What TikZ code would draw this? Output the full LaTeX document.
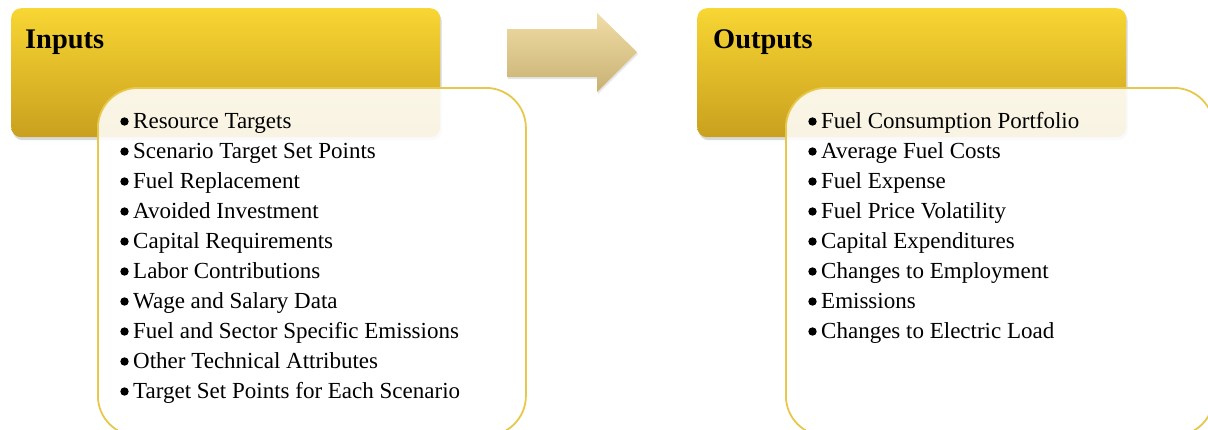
\documentclass[tikz,border=0pt]{standalone}
\usepackage{fontspec}
\setmainfont{Liberation Serif}
\usetikzlibrary{shadows}
\definecolor{hdtop}{HTML}{F8D633}
\definecolor{hdbot}{HTML}{C9A01E}
\definecolor{bord}{HTML}{E8C84C}
\definecolor{arrtop}{HTML}{F0DDA6}
\definecolor{arrbot}{HTML}{C9B173}
\tikzset{
  header/.style={rounded corners=10pt, top color=hdtop, bottom color=hdbot, draw=none,
    minimum width=429pt, minimum height=129pt, anchor=north west, inner sep=0pt,
    drop shadow={shadow xshift=1.5pt, shadow yshift=-3pt, opacity=0.3}},
  listbox/.style={rounded corners=40pt, draw=bord, line width=1.8pt, fill=white, fill opacity=0.88,
    minimum width=428pt, minimum height=348pt, anchor=north west, inner sep=0pt},
  title/.style={anchor=base west, inner sep=0pt, font=\fontsize{28.4}{30}\selectfont\bfseries},
  item/.style={anchor=base west, inner sep=0pt, font=\fontsize{23}{30}\selectfont},
  dot/.style={fill=black},
}
\begin{document}
\begin{tikzpicture}[x=1pt,y=-1pt]
\useasboundingbox (0,0) rectangle (1208,429);
\clip (0,0) rectangle (1208,429);
% Inputs
\node[header] (inhead) at (11,8) {};
\node[title] (intitle) at (25,48) {Inputs};
\node[listbox] (inbox) at (97,87) {};
\foreach \t [count=\i] in {Resource Targets, Scenario Target Set Points, Fuel Replacement,
  Avoided Investment, Capital Requirements, Labor Contributions, Wage and Salary Data,
  Fuel and Sector Specific Emissions, Other Technical Attributes, Target Set Points for Each Scenario}
  {\node[item] (in\i) at (133,98+30*\i) {\t};
   \fill[dot] ([shift={(-8.5,-6.5)}]in\i.base west) circle (4.2);}
% Arrow
\shade[top color=arrtop, bottom color=arrbot,
  drop shadow={shadow xshift=1pt, shadow yshift=-2pt, opacity=0.2}]
  (507,29) -- (597,29) -- (597,13) -- (637,52) -- (597,92) -- (597,77) -- (507,77) -- cycle;
% Outputs
\node[header] (outhead) at (697,8) {};
\node[title] (outtitle) at (713,48) {Outputs};
\node[listbox] (outbox) at (785,87) {};
\foreach \t [count=\i] in {Fuel Consumption Portfolio, Average Fuel Costs, Fuel Expense,
  Fuel Price Volatility, Capital Expenditures, Changes to Employment, Emissions,
  Changes to Electric Load}
  {\node[item] (out\i) at (821,98+30*\i) {\t};
   \fill[dot] ([shift={(-8.5,-6.5)}]out\i.base west) circle (4.2);}
\end{tikzpicture}
\end{document}
